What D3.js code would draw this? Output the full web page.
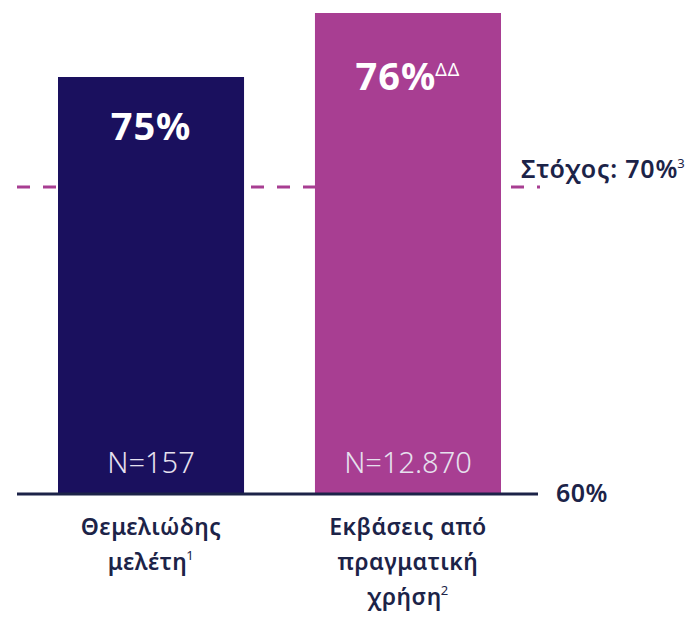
<!DOCTYPE html>
<html>
<head>
<meta charset="utf-8">
<script src="https://cdn.jsdelivr.net/npm/d3@7"></script>
<style>
  body { margin: 0; background: #fff; }
  svg { display: block; font-family: "Noto Sans", "Open Sans", sans-serif; }
</style>
</head>
<body>
<svg id="chart" width="699" height="619"></svg>
<script>
// data
var categories = [['Θεμελιώδης', 'μελέτη'], ['Εκβάσεις από', 'πραγματική', 'χρήση']];
var footnotes = ['1', '2'];
var values = [75, 76];
var valueMarks = ['', 'ΔΔ'];
var sampleSizes = ['N=157', 'N=12.870'];
var colors = ['#1a105e', '#a83e92'];
var target = 70;
var targetLabel = 'Στόχος: 70%';
var baseLabel = '60%';

var navy = '#1c2348';
var svg = d3.select('#chart');

var x = d3.scaleBand().domain(d3.range(values.length)).range([58, 501]).paddingInner(0.276).paddingOuter(0);
// the original artwork is not drawn to a linear scale, so map it piecewise
var y = d3.scaleLinear().domain([60, 70, 75, 76]).range([493, 187, 77, 13]);

// target line (behind bars)
svg.append('line')
    .attr('x1', 17)
    .attr('x2', 540)
    .attr('y1', y(target))
    .attr('y2', y(target))
    .attr('stroke', '#a83e92')
    .attr('stroke-width', 3)
    .attr('stroke-dasharray', '13,13');

var bar = svg.selectAll('.bar')
    .data(values)
    .enter()
    .append('g')
    .attr('class', 'bar')
    .attr('transform', function(d, i) { return 'translate(' + x(i) + ',0)'; });

bar.append('rect')
    .attr('y', function(d) { return y(d); })
    .attr('width', x.bandwidth())
    .attr('height', function(d) { return y(60) - y(d); })
    .attr('fill', function(d, i) { return colors[i]; });

var valueText = bar.append('text')
    .attr('x', x.bandwidth() / 2)
    .attr('y', function(d, i) { return y(d) + (valueMarks[i] ? 77 : 63); })
    .attr('text-anchor', 'middle')
    .attr('fill', '#fff')
    .style('font-size', '38px')
    .style('font-weight', 700)
    .style('letter-spacing', '1px');
valueText.append('tspan').text(function(d) { return d + '%'; });
valueText.append('tspan')
    .attr('dy', -14)
    .attr('dx', -1)
    .style('font-size', '18px')
    .style('font-weight', 400)
    .text(function(d, i) { return valueMarks[i]; });

bar.append('text')
    .attr('x', x.bandwidth() / 2)
    .attr('y', y(60) - 20)
    .attr('text-anchor', 'middle')
    .attr('fill', '#e6e1ee')
    .style('font-size', '29px')
    .style('font-weight', 300)
    .text(function(d, i) { return sampleSizes[i]; });

// category labels
bar.each(function(d, i) {
  var g = d3.select(this);
  var lines = categories[i];
  lines.forEach(function(line, j) {
    var t = g.append('text')
        .attr('x', x.bandwidth() / 2)
        .attr('y', y(60) + 42 + j * 35)
        .attr('text-anchor', 'middle')
        .attr('fill', navy)
        .style('font-size', '23px')
        .style('font-weight', 600)
        .style('letter-spacing', '0.5px');
    t.append('tspan').text(line);
    if (j === lines.length - 1) {
      t.append('tspan')
          .attr('dy', -10)
          .attr('dx', -1)
          .style('font-size', '13px')
          .style('font-weight', 400)
          .text(footnotes[i]);
    }
  });
});

// baseline
svg.append('line')
    .attr('x1', 17)
    .attr('x2', 538)
    .attr('y1', y(60) + 1)
    .attr('y2', y(60) + 1)
    .attr('stroke', navy)
    .attr('stroke-width', 3);

svg.append('text')
    .attr('x', 556)
    .attr('y', y(60) + 9)
    .attr('fill', navy)
    .style('font-size', '25px')
    .style('font-weight', 600)
    .style('letter-spacing', '0.5px')
    .text(baseLabel);

var tl = svg.append('text')
    .attr('x', 521)
    .attr('y', y(target) - 9)
    .attr('fill', navy)
    .style('font-size', '25px')
    .style('font-weight', 600)
    .style('letter-spacing', '0.8px');
tl.append('tspan').text(targetLabel);
tl.append('tspan').attr('dy', -10).attr('dx', -1).style('font-size', '13px').style('font-weight', 400).text('3');
</script>
</body>
</html>
